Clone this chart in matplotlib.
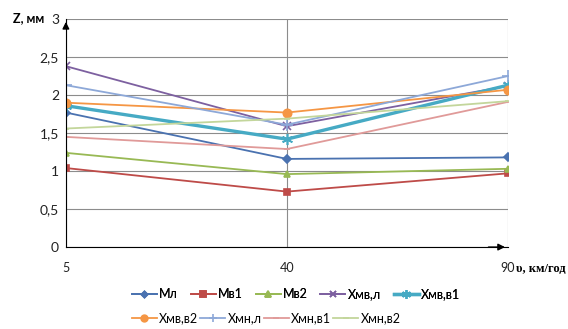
import numpy as np
import matplotlib.pyplot as plt

# швидкість, км/год (категорії)
speeds = ["5", "40", "90"]

# Z, мм
m_l = [1.77, 1.16, 1.18]
m_v1 = [1.04, 0.73, 0.97]
m_v2 = [1.24, 0.96, 1.03]
hmv_l = [2.38, 1.59, 2.12]
hmv_v1 = [1.86, 1.42, 2.13]
hmv_v2 = [1.90, 1.77, 2.07]
hmn_l = [2.13, 1.61, 2.25]
hmn_v1 = [1.45, 1.29, 1.91]
hmn_v2 = [1.56, 1.69, 1.92]

series = [
    ("Мл", m_l, "#4A72B0", "D", 1.3, 4),
    ("Мв1", m_v1, "#BE4B48", "s", 1.3, 5),
    ("Мв2", m_v2, "#98B954", "^", 1.3, 5),
    ("Хмв,л", hmv_l, "#7D60A0", "x", 1.3, 6),
    ("Хмв,в1", hmv_v1, "#46AAC4", (6, 2, 0), 2.4, 8),
    ("Хмв,в2", hmv_v2, "#F59644", "o", 1.3, 6),
    ("Хмн,л", hmn_l, "#8DA8D8", "+", 1.3, 8),
    ("Хмн,в1", hmn_v1, "#E09A99", "_", 1.3, 5),
    ("Хмн,в2", hmn_v2, "#C3D69B", "_", 1.3, 5),
]

plt.rcParams['font.family'] = ['Lato', 'DejaVu Sans']

fig = plt.figure(figsize=(5.68, 3.29), dpi=100)
ax = fig.add_axes([0.116, 0.249, 0.778, 0.693])

x = np.arange(len(speeds))
handles = []
for name, vals, col, mk, lw, ms in series:
    h, = ax.plot(x, vals, color=col, marker=mk, lw=lw, ms=ms, mew=1.2, label=name)
    handles.append(h)

ax.set_xlim(0, 2)
ax.set_ylim(0, 3)
ax.set_yticks(np.arange(0, 3.01, 0.5))
ax.set_yticklabels(["0", "0,5", "1", "1,5", "2", "2,5", "3"], fontsize=10, color="#222222")
ax.set_xticks(x)
ax.set_xticklabels(speeds, fontsize=9, color="#222222")
ax.tick_params(length=0, pad=5)
ax.tick_params(axis="x", pad=11)

ax.grid(True, color="#8C8C8C", lw=0.8)
ax.set_axisbelow(True)
for s in ["top", "right"]:
    ax.spines[s].set_visible(False)
ax.spines["left"].set_color("black")
ax.spines["bottom"].set_color("black")

# стрілки осей
ax.annotate("", xy=(0, 1.0), xytext=(0, 0.95), xycoords="axes fraction",
            arrowprops=dict(arrowstyle="-|>", color="black", lw=1, mutation_scale=10))
ax.annotate("", xy=(1.0, 0), xytext=(0.95, 0), xycoords="axes fraction",
            arrowprops=dict(arrowstyle="-|>", color="black", lw=1, mutation_scale=10))

fig.text(0.023, 0.945, "Z, мм", fontsize=9, fontweight="bold", va="center")
fig.text(0.909, 0.183, "υ, км/год", fontsize=9, fontweight="bold",
         family="Liberation Serif", va="center")

# легенда у два рядки
leg_kw = dict(frameon=False, fontsize=9, handlelength=2.0, handletextpad=0.2,
              columnspacing=1.0, borderpad=0, borderaxespad=0, loc="center left",
              markerscale=0.8)
leg1 = fig.legend(handles=handles[:5], ncol=5, bbox_to_anchor=(0.232, 1 - 294 / 329), **leg_kw)
fig.add_artist(leg1)
fig.legend(handles=handles[5:], ncol=4, bbox_to_anchor=(0.232, 1 - 318 / 329),
           **dict(leg_kw, columnspacing=0.15))

fig.savefig("out.png", dpi=100)
